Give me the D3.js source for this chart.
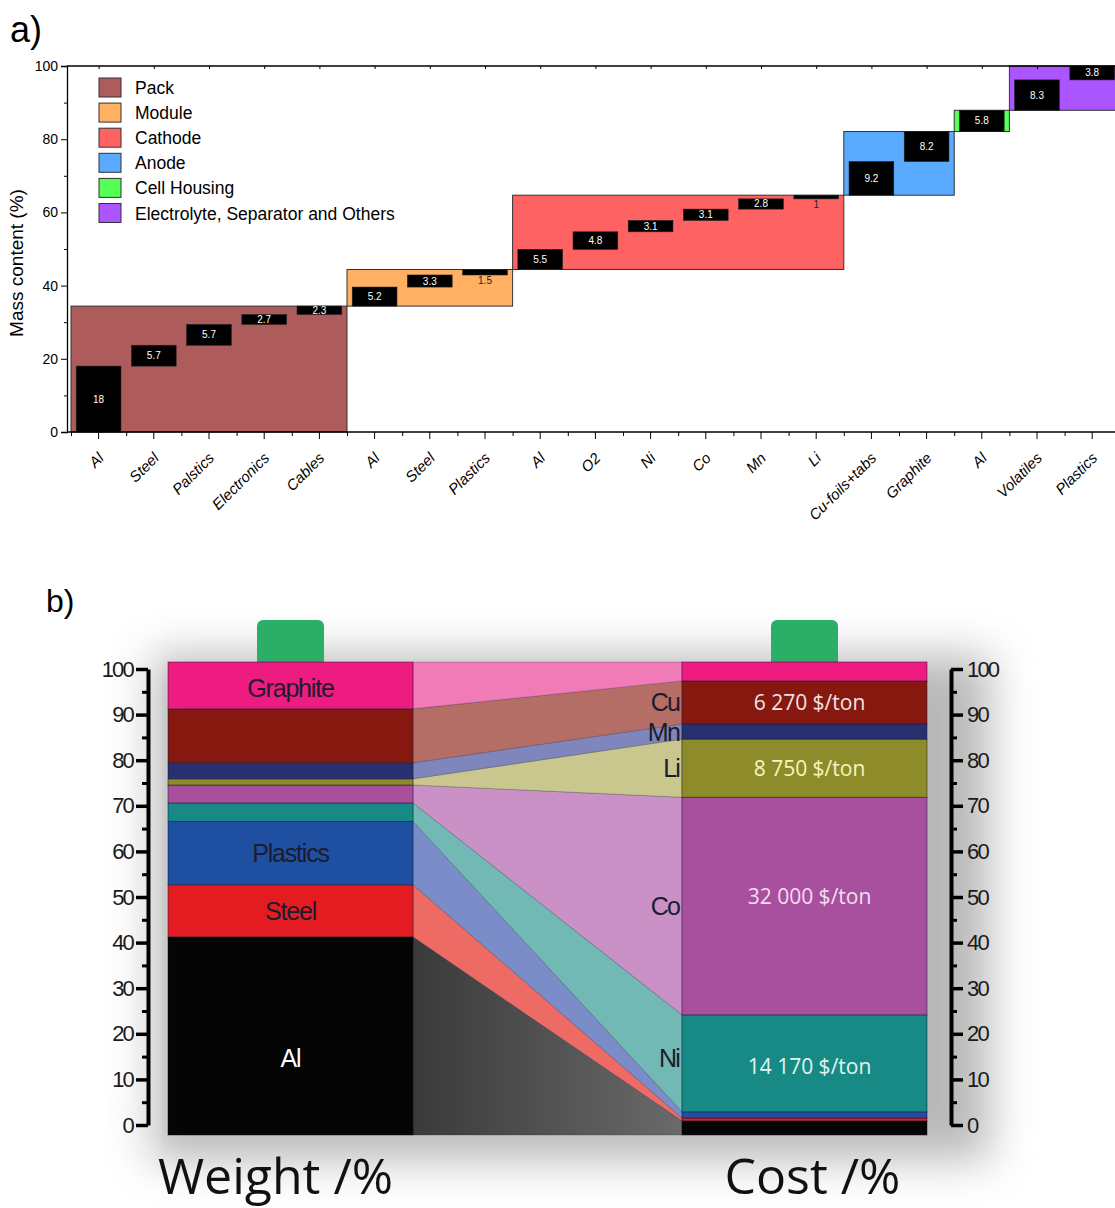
<!DOCTYPE html>
<html>
<head>
<meta charset="utf-8">
<script src="https://cdn.jsdelivr.net/npm/d3@7"></script>
<style>
  body { margin: 0; background: #fff; }
  svg { display: block; font-family: "Liberation Sans", Arial, sans-serif; }
  .humanist { font-family: "Open Sans", "Noto Sans", sans-serif; }
</style>
</head>
<body>
<div id="chart"></div>
<script>
// ---- panel a data ----
const categories = ["Al", "Steel", "Palstics", "Electronics", "Cables", "Al", "Steel", "Plastics",
  "Al", "O2", "Ni", "Co", "Mn", "Li", "Cu-foils+tabs", "Graphite", "Al", "Volatiles", "Plastics"];
const massValues = [18, 5.7, 5.7, 2.7, 2.3, 5.2, 3.3, 1.5, 5.5, 4.8, 3.1, 3.1, 2.8, 1, 9.2, 8.2, 5.8, 8.3, 3.8];
const groupNames = ["Pack", "Module", "Cathode", "Anode", "Cell Housing", "Electrolyte, Separator and Others"];
const groupSizes = [5, 3, 6, 2, 1, 2];
const groupColors = ["#ad5b5b", "#ffb062", "#ff6262", "#5aabff", "#55ff55", "#aa55ff"];
const yTicksA = [0, 20, 40, 60, 80, 100];

// ---- panel b data ----
const layers = ["Al", "Steel", "Plastics", "Ni", "Co", "Li", "Mn", "Cu", "Graphite"];
const weightPct = [41.9, 11.0, 13.4, 3.9, 3.8, 1.3, 3.4, 11.4, 9.9];
const costPct = [3.0, 0.6, 1.3, 20.5, 46.0, 12.3, 3.2, 9.1, 4.0];
const weightLabels = ["Al", "Steel", "Plastics", "Graphite"];
const costLabels = ["Ni", "Co", "Li", "Mn", "Cu"];
const priceLabels = [["Ni", "14 170 $/ton"], ["Co", "32 000 $/ton"], ["Li", "8 750 $/ton"], ["Cu", "6 270 $/ton"]];
const axisTicksB = d3.range(0, 101, 10);

const layerColors = ["#050505", "#e41c22", "#1f4fa0", "#178a85", "#a8509e", "#8e8c2a", "#283070", "#861810", "#ee1b80"];
const ribbonColors = ["#555555", "#ee6a64", "#7a8dc8", "#72b8b4", "#c991c6", "#c9c78e", "#7f86bb", "#b56e66", "#f07bb6"];
const priceColors = { Ni: "#e2f4f2", Co: "#f6dcf4", Li: "#f6f6bc", Cu: "#f4e2e2" };

const W = 1115, H = 1208;
const svg = d3.select("#chart").append("svg").attr("width", W).attr("height", H);
const defs = svg.append("defs");

// ================= panel a =================
const a = svg.append("g");
const xa = d3.scaleBand().domain(d3.range(categories.length)).range([71, 71 + 19 * 55.2]).paddingInner(0.19).paddingOuter(0.095);
const xEdge = d3.scaleLinear().domain([0, categories.length]).range([71, 71 + 19 * 55.2]);
const ya = d3.scaleLinear().domain([0, 100]).range([432, 66]);

a.append("text").attr("x", 10).attr("y", 42).attr("font-size", 36).text("a)");

// cumulative starts
const starts = [];
let acc = 0;
massValues.forEach(v => { starts.push(acc); acc += v; });
const groupInfo = [];
let idx = 0;
groupSizes.forEach((n, g) => {
  const from = idx, to = idx + n;
  groupInfo.push({ name: groupNames[g], color: groupColors[g], from, to,
    y0: starts[from], y1: starts[to - 1] + massValues[to - 1] });
  idx = to;
});

const plot = a.append("g");
defs.append("clipPath").attr("id", "clipA").append("rect").attr("x", 0).attr("y", 0).attr("width", W).attr("height", 450);
plot.attr("clip-path", "url(#clipA)");

plot.selectAll(".grp").data(groupInfo).enter().append("rect")
  .attr("x", d => xEdge(d.from)).attr("width", d => xEdge(d.to) - xEdge(d.from))
  .attr("y", d => ya(d.y1)).attr("height", d => ya(d.y0) - ya(d.y1))
  .attr("fill", d => d.color).attr("stroke", "#333").attr("stroke-width", 1);

plot.selectAll(".bar").data(massValues).enter().append("rect")
  .attr("x", (d, i) => xa(i)).attr("width", xa.bandwidth())
  .attr("y", (d, i) => ya(starts[i] + d)).attr("height", (d, i) => ya(starts[i]) - ya(starts[i] + d))
  .attr("fill", "#000").attr("stroke", "#222").attr("stroke-width", 0.6);

plot.selectAll(".barlab").data(massValues).enter().append("text")
  .attr("x", (d, i) => xa(i) + xa.bandwidth() / 2)
  .attr("y", (d, i) => d < 2 ? ya(starts[i]) + 9 : ya(starts[i] + d / 2) + 3.5)
  .attr("text-anchor", "middle").attr("font-size", 10)
  .attr("fill", d => d < 2 ? "#222" : "#fff")
  .text(d => d);

// axes
const yAxis = a.append("g").attr("transform", "translate(67,0)")
  .call(d3.axisLeft(ya).tickValues(yTicksA).tickSize(6).tickPadding(3));
yAxis.attr("font-family", null);
yAxis.selectAll("text").attr("font-size", 14).attr("fill", "#000");
yAxis.select(".domain").attr("stroke", "#000").attr("stroke-width", 1.3);
a.append("g").attr("transform", "translate(67,0)")
  .call(d3.axisLeft(ya).tickValues([10, 30, 50, 70, 90]).tickSize(3).tickFormat(""))
  .select(".domain").remove();

const xAxis = a.append("g").attr("transform", "translate(0,432)")
  .call(d3.axisBottom(xa).tickSize(7).tickFormat(""));
xAxis.select(".domain").remove();
a.append("line").attr("x1", 67).attr("x2", W).attr("y1", 432).attr("y2", 432).attr("stroke", "#000").attr("stroke-width", 1.3);
a.append("line").attr("x1", 67).attr("x2", W).attr("y1", 66).attr("y2", 66).attr("stroke", "#000").attr("stroke-width", 1.3);
a.append("g").attr("transform", "translate(0,432)")
  .call(d3.axisBottom(xEdge).tickValues(d3.range(0, categories.length + 1)).tickSize(4).tickFormat(""))
  .select(".domain").remove();
a.append("g").attr("transform", "translate(0,66)")
  .call(d3.axisBottom(xEdge).tickValues(d3.range(0, categories.length + 1).map(v => v + 0.5)).tickSize(3).tickFormat(""))
  .select(".domain").remove();

a.selectAll(".xlab").data(categories).enter().append("text")
  .attr("transform", (d, i) => `translate(${xa(i) + xa.bandwidth() / 2 + 6},${459}) rotate(-45)`)
  .attr("text-anchor", "end").attr("font-size", 15).attr("font-style", "italic").text(d => d);

a.append("text").attr("transform", "translate(23,263) rotate(-90)").attr("text-anchor", "middle")
  .attr("font-size", 19).text("Mass content (%)");

// legend
const leg = a.append("g").attr("transform", "translate(99,78)");
groupInfo.forEach((g, i) => {
  const row = leg.append("g").attr("transform", `translate(0,${i * 25.1})`);
  row.append("rect").attr("width", 22).attr("height", 19).attr("fill", g.color).attr("stroke", "#333").attr("stroke-width", 1);
  row.append("text").attr("x", 36).attr("y", 16).attr("font-size", 17.5).text(g.name);
});

// ================= panel b =================
const b = svg.append("g");
b.append("text").attr("x", 46).attr("y", 612).attr("font-size", 32).text("b)");

const yb = d3.scaleLinear().domain([0, 100]).range([1135, 662]);
const yAxB = d3.scaleLinear().domain([0, 100]).range([1125, 669]);
const leftX0 = 168, leftX1 = 413, rightX0 = 682, rightX1 = 927;

// soft shadow
const blur = defs.append("filter").attr("id", "soft").attr("x", "-30%").attr("y", "-30%").attr("width", "160%").attr("height", "160%");
blur.append("feGaussianBlur").attr("stdDeviation", 22);
b.append("rect").attr("x", 150).attr("y", 655).attr("width", 840).attr("height", 505)
  .attr("fill", "#8a8a8a").attr("opacity", 0.6).attr("filter", "url(#soft)");
b.append("rect").attr("x", 110).attr("y", 630).attr("width", 40).attr("height", 520)
  .attr("fill", "#ffffff").attr("opacity", 0.35).attr("filter", "url(#soft)");

// green terminals
[[257, 324], [771, 838]].forEach(([x0, x1]) => {
  b.append("rect").attr("x", x0).attr("y", 620).attr("width", x1 - x0).attr("height", 50)
    .attr("rx", 6).attr("fill", "#2aae68");
});

const wStart = [], cStart = [];
let wa = 0, ca = 0;
layers.forEach((l, i) => { wStart.push(wa); wa += weightPct[i]; cStart.push(ca); ca += costPct[i]; });

const alGrad = defs.append("linearGradient").attr("id", "alGrad").attr("x1", 0).attr("x2", 1);
alGrad.append("stop").attr("offset", 0).attr("stop-color", "#3a3a3a");
alGrad.append("stop").attr("offset", 1).attr("stop-color", "#6a6a6a");

// ribbons
b.selectAll(".rib").data(layers).enter().append("path")
  .attr("d", (d, i) => {
    const l0 = yb(wStart[i]), l1 = yb(wStart[i] + weightPct[i]);
    const r0 = yb(cStart[i]), r1 = yb(cStart[i] + costPct[i]);
    return `M${leftX1},${l0}L${rightX0},${r0}L${rightX0},${r1}L${leftX1},${l1}Z`;
  })
  .attr("fill", (d, i) => i === 0 ? "url(#alGrad)" : ribbonColors[i])
  .attr("stroke", "rgba(30,40,60,0.35)").attr("stroke-width", 0.7);

// stacked bars
function drawBar(x0, x1, st, vals) {
  b.selectAll(null).data(layers).enter().append("rect")
    .attr("x", x0).attr("width", x1 - x0)
    .attr("y", (d, i) => yb(st[i] + vals[i])).attr("height", (d, i) => yb(st[i]) - yb(st[i] + vals[i]))
    .attr("fill", (d, i) => layerColors[i])
    .attr("stroke", "rgba(20,20,50,0.55)").attr("stroke-width", 0.9);
}
drawBar(leftX0, leftX1, wStart, weightPct);
drawBar(rightX0, rightX1, cStart, costPct);

// bar labels
b.selectAll(".wl").data(weightLabels).enter().append("text")
  .attr("x", (leftX0 + leftX1) / 2)
  .attr("y", d => { const i = layers.indexOf(d); return yb(wStart[i] + weightPct[i] / 2) + 9 + (d === "Al" ? 22 : 0) + (d === "Graphite" ? 3 : 0); })
  .attr("text-anchor", "middle").attr("font-size", 25).attr("letter-spacing", -1.2)
  .attr("fill", d => d === "Al" ? "#fff" : "#1c1c2c").text(d => d);

b.selectAll(".cl").data(costLabels).enter().append("text")
  .attr("x", rightX0 - 3)
  .attr("y", d => { const i = layers.indexOf(d); return yb(cStart[i] + costPct[i] / 2) + 9 + (d === "Ni" ? -5 : 0); })
  .attr("text-anchor", "end").attr("font-size", 25).attr("letter-spacing", -1.8)
  .attr("fill", "#1c1c2c").text(d => d);

b.selectAll(".pl").data(priceLabels).enter().append("text")
  .attr("class", "humanist")
  .attr("x", (rightX0 + rightX1) / 2 + 5)
  .attr("y", d => { const i = layers.indexOf(d[0]); return yb(cStart[i] + costPct[i] / 2) + 8 + (d[0] === "Co" ? -10 : 0) + (d[0] === "Ni" ? 3 : 0); })
  .attr("text-anchor", "middle").attr("font-size", 21)
  .attr("fill", d => priceColors[d[0]]).text(d => d[1]);

// axes
function styleAxis(g) {
  g.attr("font-family", null);
  g.select(".domain").attr("stroke", "#000").attr("stroke-width", 4);
  g.selectAll(".tick line").attr("stroke", "#000").attr("stroke-width", 3.5);
  g.selectAll(".tick text").attr("font-size", 22).attr("letter-spacing", -1.8).attr("fill", "#1a1a1a");
}
const lAx = b.append("g").attr("transform", "translate(148,0)")
  .call(d3.axisLeft(yAxB).tickValues(axisTicksB).tickSize(12).tickSizeOuter(0).tickPadding(3));
styleAxis(lAx);
b.append("g").attr("transform", "translate(148,0)")
  .call(d3.axisLeft(yAxB).tickValues(axisTicksB.slice(0, -1).map(v => v + 5)).tickSize(6).tickFormat(""))
  .call(g => { g.select(".domain").remove(); g.selectAll("line").attr("stroke", "#000").attr("stroke-width", 3); });

const rAx = b.append("g").attr("transform", "translate(951,0)")
  .call(d3.axisRight(yAxB).tickValues(axisTicksB).tickSize(12).tickSizeOuter(0).tickPadding(4));
styleAxis(rAx);
b.append("g").attr("transform", "translate(951,0)")
  .call(d3.axisRight(yAxB).tickValues(axisTicksB.slice(0, -1).map(v => v + 5)).tickSize(6).tickFormat(""))
  .call(g => { g.select(".domain").remove(); g.selectAll("line").attr("stroke", "#000").attr("stroke-width", 3); });

// big titles
b.append("text").attr("class", "humanist").attr("x", (leftX0 + leftX1) / 2 - 15).attr("y", 1194).attr("text-anchor", "middle")
  .attr("font-size", 50).attr("fill", "#111").text("Weight /%");
b.append("text").attr("class", "humanist").attr("x", (rightX0 + rightX1) / 2 + 8).attr("y", 1194).attr("text-anchor", "middle")
  .attr("font-size", 50).attr("fill", "#111").text("Cost /%");
</script>
</body>
</html>
